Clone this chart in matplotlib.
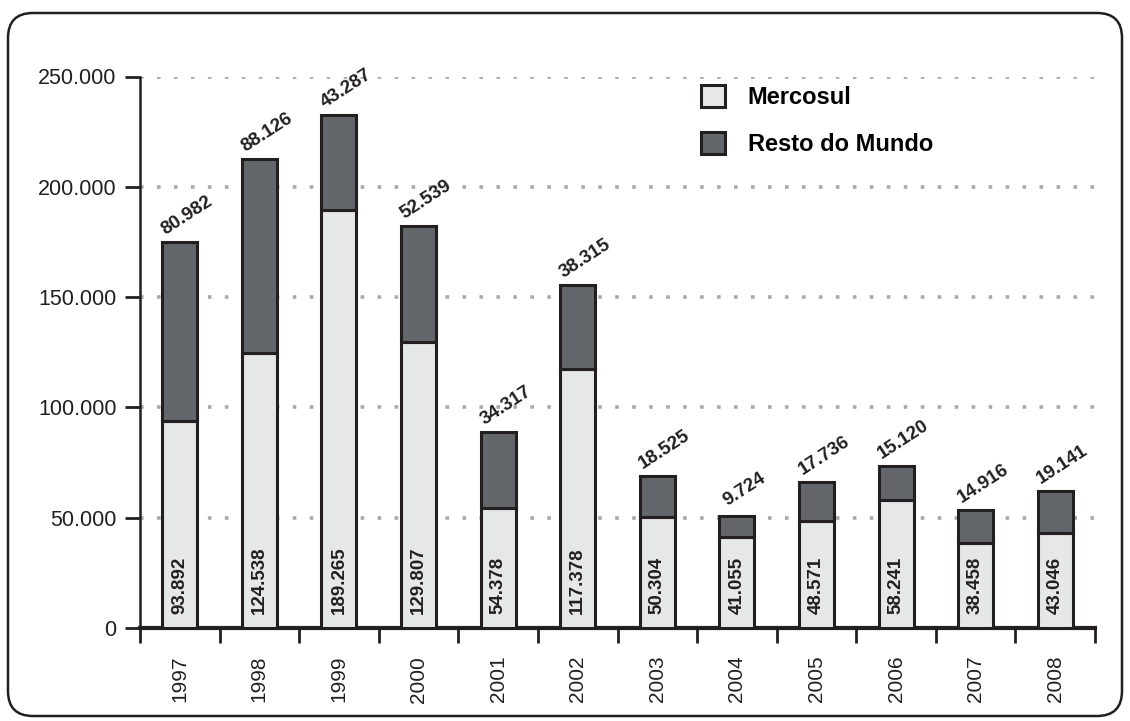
import matplotlib
matplotlib.use('Agg')
import matplotlib.pyplot as plt
from matplotlib.patches import FancyBboxPatch, Patch
import numpy as np

"""
    Mercosul x Resto do Mundo, 1997-2008 (stacked bars)
"""

years = ['1997', '1998', '1999', '2000', '2001', '2002',
         '2003', '2004', '2005', '2006', '2007', '2008']
mercosul = [93892, 124538, 189265, 129807, 54378, 117378,
            50304, 41055, 48571, 58241, 38458, 43046]
resto = [80982, 88126, 43287, 52539, 34317, 38315,
         18525, 9724, 17736, 15120, 14916, 19141]
yticks = [0, 50000, 100000, 150000, 200000, 250000]

light = '#e6e7e8'
dark = '#63666a'
edge = '#231f20'

plt.rcParams['font.family'] = ['Liberation Sans', 'DejaVu Sans']


def fmt(v):
    return f'{v:,.0f}'.replace(',', '.')


fig = plt.figure(figsize=(11.3, 7.21), dpi=100)
ax = fig.add_axes([140 / 1130, 1 - 628 / 721, 955 / 1130, (628 - 76.5) / 721])

x = np.arange(len(years))
w = 0.44
ax.bar(x, mercosul, w, color=light, edgecolor=edge, linewidth=2.2, zorder=3)
ax.bar(x, resto, w, bottom=mercosul, color=dark, edgecolor=edge, linewidth=2.2, zorder=3)

for xi, m, r in zip(x, mercosul, resto):
    ax.annotate(fmt(m), (xi, 0), xytext=(0, 10), textcoords='offset points',
                rotation=90, ha='center', va='bottom', fontsize=13.5,
                fontweight='bold', color=edge, zorder=4)
    ax.annotate(fmt(r), (xi, m + r), xytext=(5.5, 19), textcoords='offset points',
                rotation=33, rotation_mode='anchor', ha='center', va='center',
                fontsize=13.5, fontweight='bold', color=edge,
                annotation_clip=False, zorder=4)

ax.set_xlim(-0.5, len(years) - 0.5)
ax.set_ylim(0, 250000)

# dotted grid
for t in yticks[1:]:
    ax.axhline(t, color='#a7a9ac', linewidth=2.6, linestyle=(0, (1, 3.7)),
               dash_capstyle='butt', zorder=1)

ax.set_yticks(yticks)
ax.set_yticklabels([fmt(t) for t in yticks], fontsize=15.5, color=edge)
ax.set_xticks(x)
ax.set_xticklabels(years, rotation=90, fontsize=15, color=edge)
ax.tick_params(axis='x', which='major', length=0, pad=20)
ax.set_xticks(np.arange(-0.5, len(years)), minor=True)
ax.tick_params(axis='x', which='minor', length=11, width=2, color=edge)
ax.tick_params(axis='y', length=11, width=2, color=edge, pad=6)

for s in ['top', 'right']:
    ax.spines[s].set_visible(False)
ax.spines['bottom'].set_linewidth(3)
ax.spines['left'].set_linewidth(1.8)
ax.spines['bottom'].set_color(edge)
ax.spines['left'].set_color(edge)

handles = [Patch(facecolor=light, edgecolor=edge, linewidth=2.2),
           Patch(facecolor=dark, edgecolor=edge, linewidth=2.2)]
ax.legend(handles, ['Mercosul', 'Resto do Mundo'], loc='upper left',
          bbox_to_anchor=(0.587, 0.985), frameon=False,
          prop={'weight': 'bold', 'size': 17},
          handlelength=1.05, handleheight=1.05, handletextpad=0.95,
          labelspacing=1.0, borderpad=0, borderaxespad=0)

border = FancyBboxPatch((0.08, 0.05), 11.14, 7.03,
                        boxstyle='round,pad=0,rounding_size=0.25',
                        transform=fig.dpi_scale_trans, facecolor='none',
                        edgecolor=edge, linewidth=1.8)
fig.add_artist(border)

fig.savefig('out.png', dpi=100)
